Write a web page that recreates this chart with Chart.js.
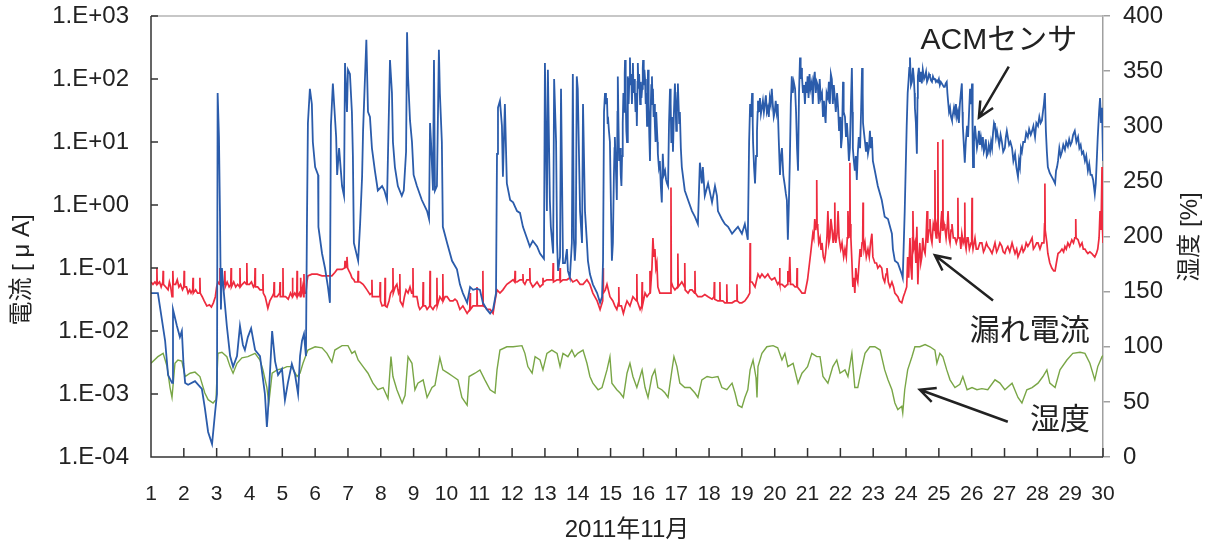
<!DOCTYPE html>
<html>
<head>
<meta charset="utf-8">
<script src="https://cdn.jsdelivr.net/npm/chart.js@4.4.1/dist/chart.umd.min.js"></script>
<style>
  html, body { margin: 0; padding: 0; background: #fff; }
  #wrap { width: 1210px; height: 548px; }
</style>
</head>
<body>
<div id="wrap"><canvas id="chart"></canvas></div>
<script>
// readings taken off the plot: [day of Nov 2011, value]
const acmReadings = [
  [1.00,4e-2],[1.21,4e-2],[1.43,7e-3],[1.52,2e-3],[1.64,1.5e-3],[1.67,2.2e-2],[1.79,1.2e-2],[1.88,8e-3],[1.94,1e-2],[1.99,3e-3],
  [2.04,1.5e-3],[2.13,1.4e-3],[2.34,1.6e-3],[2.55,1.2e-3],[2.64,6e-4],[2.74,2.5e-4],[2.86,1.6e-4],[2.95,5e-4],[3.01,1e-3],[3.03,60],
  [3.07,12],[3.10,0.8],[3.13,2.2e-2],[3.16,0.1],[3.22,4e-2],[3.31,1.2e-2],[3.41,4e-3],[3.50,2.7e-3],[3.62,4e-3],[3.71,1.2e-2],
  [3.80,6e-3],[3.86,5e-3],[3.95,8e-3],[4.05,1.1e-2],[4.17,5e-3],[4.32,4e-3],[4.47,1e-3],[4.53,3e-4],[4.56,5e-4],[4.69,1e-2],
  [4.78,3.3e-3],[4.87,2e-3],[4.99,2.5e-3],[5.08,8e-4],[5.17,1.5e-3],[5.29,3e-3],[5.39,2e-3],[5.48,1e-3],[5.54,4e-3],[5.60,7e-3],
  [5.66,9e-3],[5.72,4e-3],[5.75,0.45],[5.78,20],[5.84,70],[5.90,40],[5.93,10],[6.00,4],[6.09,3],[6.10,0.45],
  [6.21,0.17],[6.30,0.1],[6.39,5e-2],[6.45,2.8e-2],[6.48,18],[6.54,85],[6.64,12],[6.67,3],[6.73,8],[6.82,2],
  [6.88,1.4],[6.91,180],[6.97,30],[7.00,140],[7.06,120],[7.12,30],[7.15,6],[7.18,0.25],[7.31,0.13],[7.37,0.5],
  [7.43,2.8],[7.46,15],[7.56,420],[7.61,30],[7.67,25],[7.73,8],[7.82,3.5],[7.91,1.7],[8.04,2],[8.11,1.7],
  [8.19,1.2],[8.28,200],[8.34,60],[8.37,10],[8.43,4],[8.52,2],[8.64,1.4],[8.70,1.7],[8.77,7],[8.80,550],
  [8.83,110],[8.89,22],[8.95,10],[9.00,3],[9.10,2],[9.25,1.2],[9.41,0.8],[9.47,0.6],[9.50,20],[9.53,10],
  [9.59,1.7],[9.62,200],[9.65,1.7],[9.71,2],[9.77,290],[9.80,60],[9.86,10],[9.89,0.45],[10.02,0.25],[10.17,0.13],
  [10.32,9.5e-2],[10.41,5.5e-2],[10.50,4e-2],[10.63,2.8e-2],[10.72,5e-2],[10.81,4.5e-2],[10.93,4.7e-2],[11.02,4.5e-2],[11.11,2.8e-2],[11.23,2.2e-2],
  [11.33,1.9e-2],[11.42,2.2e-2],[11.51,4e-2],[11.54,6.5],[11.57,35],[11.63,45],[11.69,18],[11.72,2.8],[11.78,40],[11.84,2.2],
  [11.94,1.2],[12.03,1.1],[12.15,0.8],[12.24,0.75],[12.33,0.45],[12.45,0.3],[12.54,0.22],[12.63,0.27],[12.76,0.22],[12.85,0.17],
  [12.97,0.14],[13.00,180],[13.06,0.8],[13.09,140],[13.15,1.2],[13.18,0.45],[13.25,0.17],[13.28,100],[13.34,10],[13.37,0.25],
  [13.40,9e-2],[13.46,0.15],[13.49,70],[13.55,0.12],[13.61,0.12],[13.67,0.2],[13.70,9e-2],[13.76,7e-2],[13.82,0.25],[13.85,120],
  [13.88,0.3],[13.91,0.13],[13.94,0.25],[13.97,110],[14.00,70],[14.07,0.8],[14.13,0.25],[14.16,40],[14.22,0.8],[14.28,0.25],
  [14.31,0.13],[14.37,8e-2],[14.46,5.5e-2],[14.59,4e-2],[14.68,2.8e-2],[14.74,3.5e-2],[14.77,0.13],[14.80,30],[14.83,60],[14.86,40],
  [14.89,50],[14.91,20],[14.92,25],[14.95,15],[14.98,10],[15.01,1],[15.04,0.13],[15.07,0.25],[15.10,2.8],[15.12,8],
  [15.13,12],[15.16,4],[15.19,1.2],[15.21,30],[15.22,110],[15.24,20],[15.26,5],[15.29,8],[15.31,3],[15.33,2],
  [15.35,6],[15.37,20],[15.39,60],[15.41,30],[15.43,120],[15.44,200],[15.46,50],[15.48,15],[15.50,10],[15.52,60],
  [15.53,110],[15.55,40],[15.57,100],[15.59,220],[15.61,80],[15.63,120],[15.65,40],[15.67,90],[15.68,180],[15.70,60],
  [15.72,100],[15.74,60],[15.76,30],[15.78,60],[15.80,18],[15.82,90],[15.83,180],[15.85,70],[15.87,120],[15.90,40],
  [15.92,90],[15.94,50],[15.96,70],[15.98,150],[15.99,200],[16.01,80],[16.03,140],[16.05,100],[16.07,40],[16.09,60],
  [16.11,18],[16.13,80],[16.14,140],[16.16,40],[16.18,12],[16.20,5],[16.22,30],[16.24,80],[16.26,110],[16.28,40],
  [16.29,70],[16.31,25],[16.33,40],[16.35,18],[16.37,10],[16.39,30],[16.41,30],[16.43,10],[16.44,6.5],[16.47,4],
  [16.50,5],[16.53,2],[16.56,1.1],[16.59,6.5],[16.62,3],[16.66,3.5],[16.69,2.5],[16.72,2.2],[16.75,2],[16.78,20],
  [16.81,70],[16.83,40],[16.85,10],[16.87,25],[16.89,12],[16.90,7],[16.93,30],[16.96,85],[16.98,40],[17.00,15],
  [17.02,30],[17.04,60],[17.05,85],[17.07,40],[17.09,20],[17.11,30],[17.14,8],[17.17,4],[17.26,1.7],[17.36,1.2],
  [17.48,0.8],[17.57,0.65],[17.66,0.5],[17.72,4.7],[17.78,2.2],[17.81,4],[17.87,1.4],[17.97,2.2],[18.09,1.1],[18.18,2],
  [18.24,1.4],[18.27,0.8],[18.39,0.6],[18.48,0.5],[18.58,0.45],[18.70,0.35],[18.79,0.4],[18.88,0.45],[19.00,0.35],[19.09,0.5],
  [19.18,0.28],[19.22,10],[19.25,40],[19.28,25],[19.31,60],[19.33,20],[19.34,10],[19.37,4],[19.40,2.2],[19.43,6],
  [19.46,15],[19.48,30],[19.49,45],[19.52,30],[19.55,50],[19.58,28],[19.61,35],[19.64,45],[19.67,30],[19.70,40],
  [19.73,55],[19.76,30],[19.79,35],[19.82,25],[19.85,50],[19.88,40],[19.91,70],[19.94,40],[19.97,25],[20.00,30],
  [20.03,45],[20.06,30],[20.09,40],[20.12,12],[20.16,3],[20.19,6],[20.22,8],[20.26,3],[20.31,2],[20.34,1.5],
  [20.37,1.2],[20.40,0.28],[20.43,1],[20.46,5],[20.49,40],[20.52,110],[20.55,60],[20.58,90],[20.62,70],[20.65,30],
  [20.68,8],[20.71,3.5],[20.74,60],[20.77,220],[20.79,100],[20.81,150],[20.83,110],[20.86,60],[20.89,80],[20.92,40],
  [20.95,90],[20.98,60],[21.00,110],[21.03,50],[21.06,120],[21.09,70],[21.13,90],[21.16,40],[21.19,100],[21.22,130],
  [21.25,60],[21.28,90],[21.31,80],[21.34,40],[21.37,100],[21.40,50],[21.44,60],[21.47,25],[21.50,45],[21.52,30],
  [21.55,20],[21.58,60],[21.62,50],[21.65,90],[21.68,40],[21.71,120],[21.74,100],[21.77,40],[21.80,80],[21.83,50],
  [21.86,30],[21.90,60],[21.93,35],[21.96,15],[22.00,25],[22.02,8],[22.05,12],[22.08,90],[22.10,30],[22.14,25],
  [22.17,12],[22.20,20],[22.23,11],[22.26,5],[22.29,8],[22.32,40],[22.35,150],[22.37,30],[22.38,8],[22.41,5],
  [22.44,3.5],[22.47,6],[22.50,2.5],[22.53,6.5],[22.56,12],[22.60,8],[22.63,30],[22.66,150],[22.68,60],[22.69,20],
  [22.72,14],[22.75,10],[22.78,7],[22.81,10],[22.84,6.5],[22.87,8],[22.90,15],[22.93,8],[22.96,12],[22.99,5],
  [23.05,3.5],[23.14,2],[23.26,1.2],[23.35,0.65],[23.45,0.6],[23.57,0.35],[23.60,0.2],[23.66,0.13],[23.75,0.12],[23.87,8e-2],
  [23.90,7e-2],[23.96,0.8],[24.02,18],[24.05,60],[24.08,100],[24.10,150],[24.12,220],[24.15,80],[24.18,90],[24.21,150],
  [24.24,100],[24.26,60],[24.27,35],[24.30,20],[24.33,6.5],[24.35,50],[24.36,110],[24.39,150],[24.42,90],[24.45,130],
  [24.48,85],[24.51,140],[24.55,100],[24.58,110],[24.61,130],[24.64,90],[24.67,100],[24.70,120],[24.73,110],[24.76,95],
  [24.79,90],[24.82,110],[24.85,100],[24.88,100],[24.91,90],[24.94,95],[24.97,90],[25.00,100],[25.03,80],[25.06,90],
  [25.09,85],[25.12,80],[25.15,75],[25.18,75],[25.21,85],[25.24,90],[25.26,60],[25.28,45],[25.31,30],[25.34,35],
  [25.37,25],[25.40,22],[25.43,28],[25.46,35],[25.49,28],[25.52,40],[25.55,25],[25.58,30],[25.61,20],[25.64,40],
  [25.67,60],[25.70,85],[25.72,30],[25.73,18],[25.76,9],[25.79,4.7],[25.82,10],[25.86,18],[25.89,12],[25.92,30],
  [25.95,70],[25.98,40],[26.01,85],[26.03,10],[26.04,4],[26.07,10],[26.10,18],[26.13,12],[26.16,8],[26.19,10],
  [26.22,15],[26.25,9],[26.28,12],[26.31,9],[26.34,12],[26.37,7],[26.40,8],[26.43,11],[26.46,6],[26.49,6.5],
  [26.52,9],[26.56,7],[26.59,10],[26.62,8],[26.65,14],[26.68,20],[26.71,18],[26.74,12],[26.77,15],[26.80,12],
  [26.84,9],[26.88,13],[26.92,10],[26.96,7],[27.01,8],[27.04,12],[27.07,15],[27.10,12],[27.14,9],[27.18,10],
  [27.23,8],[27.27,5],[27.32,6.5],[27.36,4],[27.41,2.8],[27.44,5],[27.47,4],[27.50,8],[27.53,7],[27.57,10],
  [27.62,10],[27.66,14],[27.71,12],[27.75,16],[27.80,13],[27.84,15],[27.88,18],[27.93,12],[27.97,20],[28.02,18],
  [28.06,25],[28.10,20],[28.14,22],[28.17,30],[28.20,40],[28.23,60],[28.26,15],[28.29,7],[28.32,4],[28.38,3.2],
  [28.44,2.8],[28.49,2.5],[28.54,2.2],[28.57,3.5],[28.60,4],[28.63,5],[28.67,8],[28.71,6],[28.75,7],[28.79,9],
  [28.84,7.5],[28.88,10],[28.93,8.5],[28.97,11],[29.01,9],[29.05,10],[29.09,13],[29.14,15],[29.19,10],[29.24,12],
  [29.28,8],[29.32,9],[29.36,6.5],[29.40,7],[29.45,5],[29.49,6],[29.54,3.5],[29.58,4.5],[29.62,3],[29.66,3],
  [29.70,2.5],[29.75,1.5],[29.78,2.2],[29.84,12],[29.88,30],[29.91,50],[29.94,20],[29.97,35],[30.00,5]
];

const leakReadings = [
  [1.00,6e-2],[1.06,5.5e-2],[1.12,6e-2],[1.17,5.5e-2],[1.18,0.1],[1.19,5.5e-2],[1.26,6e-2],[1.31,5e-2],[1.36,6e-2],[1.37,9e-2],
  [1.38,5.5e-2],[1.45,5e-2],[1.52,4.5e-2],[1.56,6e-2],[1.60,5e-2],[1.64,3.5e-2],[1.66,5e-2],[1.67,9e-2],[1.68,5.5e-2],[1.75,5.5e-2],
  [1.80,6.5e-2],[1.85,5e-2],[1.90,5.5e-2],[1.96,4.5e-2],[2.00,5e-2],[2.01,9e-2],[2.02,5e-2],[2.08,5e-2],[2.13,4e-2],[2.18,4.5e-2],
  [2.22,4e-2],[2.27,4.5e-2],[2.28,7e-2],[2.29,4e-2],[2.36,4.5e-2],[2.42,4e-2],[2.48,4e-2],[2.49,7e-2],[2.50,4e-2],[2.56,3.5e-2],
  [2.62,3e-2],[2.70,2.5e-2],[2.78,2.6e-2],[2.84,2.4e-2],[2.90,2.8e-2],[2.96,3.5e-2],[3.00,5e-2],[3.04,6e-2],[3.09,5.5e-2],[3.10,0.1],
  [3.11,6e-2],[3.16,6.5e-2],[3.21,5.5e-2],[3.24,6e-2],[3.25,9e-2],[3.26,5e-2],[3.32,6e-2],[3.38,5e-2],[3.43,5.5e-2],[3.44,0.1],
  [3.45,5e-2],[3.52,6e-2],[3.58,5e-2],[3.64,5.5e-2],[3.70,5e-2],[3.71,0.1],[3.72,5e-2],[3.78,5.5e-2],[3.85,6e-2],[3.91,5.5e-2],
  [3.92,0.12],[3.93,5.5e-2],[4.00,5.5e-2],[4.06,6e-2],[4.12,5e-2],[4.16,5.5e-2],[4.17,0.1],[4.18,5e-2],[4.25,5e-2],[4.32,4.5e-2],
  [4.40,4.5e-2],[4.41,8e-2],[4.42,4e-2],[4.48,3.5e-2],[4.56,2.3e-2],[4.62,3e-2],[4.69,3.5e-2],[4.74,4e-2],[4.75,6e-2],[4.76,3.5e-2],
  [4.84,3.5e-2],[4.92,4e-2],[4.93,6e-2],[4.94,3.5e-2],[5.01,3.5e-2],[5.02,0.1],[5.03,3.5e-2],[5.10,3.5e-2],[5.18,3.2e-2],[5.25,4e-2],
  [5.30,3.5e-2],[5.31,7e-2],[5.32,3.5e-2],[5.38,4e-2],[5.44,3.5e-2],[5.45,9e-2],[5.46,3.5e-2],[5.52,4e-2],[5.55,3.5e-2],[5.56,7e-2],
  [5.57,3.5e-2],[5.62,5e-2],[5.65,3.5e-2],[5.66,8e-2],[5.67,4e-2],[5.72,4e-2],[5.75,6e-2],[5.78,7.5e-2],[5.90,8e-2],[6.06,8e-2],
  [6.21,7.5e-2],[6.36,7.5e-2],[6.51,7.5e-2],[6.60,8.5e-2],[6.67,9.5e-2],[6.82,9.5e-2],[6.90,0.1],[6.91,0.13],[6.93,0.1],[6.96,0.12],
  [6.97,0.15],[6.99,0.1],[7.03,9e-2],[7.08,8e-2],[7.12,7e-2],[7.18,6.5e-2],[7.21,6e-2],[7.30,6e-2],[7.31,9e-2],[7.32,6e-2],
  [7.37,6e-2],[7.46,5.5e-2],[7.52,5e-2],[7.58,4.5e-2],[7.67,3.8e-2],[7.72,4e-2],[7.73,6.5e-2],[7.74,3.5e-2],[7.82,3.5e-2],[7.91,3.5e-2],
  [7.97,3.5e-2],[7.98,6e-2],[7.99,3e-2],[8.04,2.5e-2],[8.12,2.6e-2],[8.13,7e-2],[8.14,2.5e-2],[8.19,2.4e-2],[8.25,3e-2],[8.30,4e-2],
  [8.36,4.5e-2],[8.37,0.1],[8.38,4e-2],[8.44,5e-2],[8.49,5.5e-2],[8.54,4e-2],[8.57,4.5e-2],[8.58,8e-2],[8.59,3e-2],[8.67,2.5e-2],
  [8.72,3.5e-2],[8.77,4.5e-2],[8.83,4e-2],[8.89,5e-2],[8.94,4e-2],[8.97,4e-2],[8.98,0.1],[8.99,3.5e-2],[9.05,3.5e-2],[9.10,3.5e-2],
  [9.15,2.5e-2],[9.19,2.2e-2],[9.28,2.5e-2],[9.29,6e-2],[9.30,2.5e-2],[9.36,2.5e-2],[9.41,2.2e-2],[9.49,2.5e-2],[9.50,9e-2],[9.51,2.5e-2],
  [9.59,2.2e-2],[9.65,2.5e-2],[9.70,2.6e-2],[9.71,7e-2],[9.72,2.5e-2],[9.80,3.5e-2],[9.88,3e-2],[9.89,8e-2],[9.90,3e-2],[9.96,3.5e-2],
  [10.02,3.5e-2],[10.11,3e-2],[10.20,3e-2],[10.26,3.2e-2],[10.32,3e-2],[10.41,2.2e-2],[10.50,2.5e-2],[10.56,2.2e-2],[10.63,1.9e-2],[10.71,2.2e-2],
  [10.72,4e-2],[10.73,2.2e-2],[10.81,2.5e-2],[10.87,2.5e-2],[10.92,2.5e-2],[10.93,5e-2],[10.94,2.5e-2],[11.02,2.5e-2],[11.10,2.5e-2],[11.11,9e-2],
  [11.12,2.5e-2],[11.18,2.4e-2],[11.23,2.2e-2],[11.33,2.2e-2],[11.42,1.9e-2],[11.48,3e-2],[11.54,4.5e-2],[11.63,4e-2],[11.72,4.5e-2],[11.78,5e-2],
  [11.84,5.5e-2],[11.94,6e-2],[12.03,6.5e-2],[12.08,6e-2],[12.09,9e-2],[12.10,6e-2],[12.15,6e-2],[12.24,6.5e-2],[12.32,6.5e-2],[12.33,8e-2],
  [12.34,6e-2],[12.39,5.5e-2],[12.45,6.5e-2],[12.53,6.5e-2],[12.54,0.1],[12.55,6e-2],[12.63,5e-2],[12.70,5.5e-2],[12.76,6e-2],[12.85,5e-2],
  [12.93,5.5e-2],[12.94,7e-2],[12.95,6e-2],[13.06,6.5e-2],[13.15,6.5e-2],[13.24,6.5e-2],[13.25,0.12],[13.26,6e-2],[13.37,6.5e-2],[13.45,6.5e-2],
  [13.46,0.1],[13.47,6e-2],[13.55,6.5e-2],[13.67,6.5e-2],[13.76,7e-2],[13.85,6e-2],[13.97,6.5e-2],[14.07,5.5e-2],[14.16,5.5e-2],[14.28,6.5e-2],
  [14.37,5.5e-2],[14.46,4e-2],[14.59,3e-2],[14.68,2.2e-2],[14.76,3e-2],[14.77,0.1],[14.78,4e-2],[14.84,4.5e-2],[14.89,5.5e-2],[14.98,3.5e-2],
  [15.07,3e-2],[15.13,2.5e-2],[15.19,2.2e-2],[15.24,2.8e-2],[15.25,5e-2],[15.26,2.5e-2],[15.33,2.5e-2],[15.39,1.9e-2],[15.45,2.5e-2],[15.50,3e-2],
  [15.59,2.5e-2],[15.68,3.5e-2],[15.79,3e-2],[15.80,8e-2],[15.81,3e-2],[15.90,2.2e-2],[15.95,2.5e-2],[15.96,6e-2],[15.97,2.5e-2],[16.05,4e-2],
  [16.11,3.5e-2],[16.19,4e-2],[16.20,9e-2],[16.21,4e-2],[16.26,0.1],[16.29,0.3],[16.32,0.15],[16.35,0.2],[16.38,0.1],[16.41,0.12],
  [16.44,5e-2],[16.50,4e-2],[16.56,4e-2],[16.66,4e-2],[16.75,4e-2],[16.83,4e-2],[16.84,1.9],[16.85,6e-2],[16.90,5e-2],[16.96,4.5e-2],
  [17.04,5e-2],[17.05,0.17],[17.06,5e-2],[17.12,5.5e-2],[17.17,6e-2],[17.25,5e-2],[17.26,0.12],[17.27,4.5e-2],[17.36,4e-2],[17.42,4.5e-2],
  [17.48,4.5e-2],[17.56,4e-2],[17.57,9e-2],[17.58,4e-2],[17.66,3.5e-2],[17.78,3.5e-2],[17.87,3.8e-2],[17.97,3.5e-2],[18.09,3.2e-2],[18.15,3.5e-2],
  [18.16,6e-2],[18.17,3.2e-2],[18.27,3e-2],[18.32,3e-2],[18.33,6e-2],[18.34,3e-2],[18.42,3e-2],[18.48,2.8e-2],[18.53,2.8e-2],[18.54,5.5e-2],
  [18.55,2.8e-2],[18.65,2.8e-2],[18.70,2.8e-2],[18.79,3e-2],[18.84,3e-2],[18.85,5.5e-2],[18.86,3e-2],[18.93,2.8e-2],[19.00,2.8e-2],[19.09,3e-2],
  [19.18,3.5e-2],[19.24,4e-2],[19.25,0.25],[19.26,6e-2],[19.31,6e-2],[19.40,5e-2],[19.49,8e-2],[19.55,7e-2],[19.61,8e-2],[19.70,7e-2],
  [19.79,8e-2],[19.85,7e-2],[19.91,6.5e-2],[20.00,7e-2],[20.09,5.5e-2],[20.14,6e-2],[20.15,0.1],[20.16,5.5e-2],[20.22,5.5e-2],[20.31,5e-2],
  [20.39,5.5e-2],[20.40,9e-2],[20.43,6e-2],[20.46,0.15],[20.48,5.5e-2],[20.55,5.5e-2],[20.62,5e-2],[20.67,5e-2],[20.68,0.1],[20.69,5e-2],
  [20.76,4.5e-2],[20.83,4e-2],[20.92,4e-2],[21.00,6.5e-2],[21.06,0.12],[21.10,0.18],[21.13,0.25],[21.16,0.35],[21.19,0.3],[21.22,0.6],
  [21.25,0.4],[21.27,0.5],[21.28,2.5],[21.29,0.5],[21.31,0.45],[21.34,0.25],[21.38,0.3],[21.41,0.2],[21.44,0.25],[21.48,0.15],
  [21.52,0.13],[21.55,0.17],[21.59,0.3],[21.62,0.8],[21.65,0.25],[21.68,0.3],[21.71,0.6],[21.74,0.45],[21.78,0.25],[21.82,0.4],
  [21.83,1.1],[21.84,0.3],[21.86,0.25],[21.90,0.35],[21.93,0.8],[21.96,0.3],[22.01,0.2],[22.05,0.25],[22.10,0.15],[22.14,0.2],
  [22.18,0.15],[22.21,0.3],[22.23,0.8],[22.26,0.3],[22.28,0.5],[22.29,4.7],[22.30,0.5],[22.32,0.3],[22.35,0.13],[22.38,5e-2],
  [22.41,7e-2],[22.44,4e-2],[22.47,0.1],[22.50,7e-2],[22.53,6e-2],[22.57,0.12],[22.60,0.2],[22.63,0.15],[22.66,0.25],[22.68,0.3],
  [22.69,1.1],[22.70,0.3],[22.72,0.2],[22.75,0.25],[22.79,0.15],[22.84,0.2],[22.88,0.15],[22.92,0.25],[22.96,0.35],[22.99,0.15],
  [23.05,0.12],[23.10,0.12],[23.14,0.1],[23.20,0.11],[23.26,0.1],[23.30,7e-2],[23.35,6e-2],[23.39,8e-2],[23.42,0.1],[23.46,6e-2],
  [23.51,5e-2],[23.57,6e-2],[23.62,5e-2],[23.66,4e-2],[23.75,3.5e-2],[23.80,3e-2],[23.87,2.8e-2],[23.92,3.5e-2],[23.96,4e-2],[24.02,5e-2],
  [24.05,0.15],[24.08,7e-2],[24.12,0.3],[24.15,0.1],[24.18,6.5e-2],[24.20,0.3],[24.21,0.8],[24.23,0.2],[24.27,0.25],[24.30,0.12],
  [24.33,0.45],[24.36,5.5e-2],[24.39,0.15],[24.42,0.25],[24.45,0.12],[24.48,0.15],[24.51,0.3],[24.54,0.2],[24.58,0.17],[24.61,0.3],
  [24.64,0.8],[24.66,0.25],[24.67,0.3],[24.70,0.4],[24.73,0.6],[24.76,0.3],[24.79,0.25],[24.83,0.5],[24.87,0.4],[24.88,3.6],
  [24.89,0.4],[24.92,0.3],[24.94,0.45],[24.96,0.4],[24.97,10],[24.98,0.4],[25.01,0.3],[25.03,0.25],[25.06,0.5],[25.09,0.8],
  [25.11,0.4],[25.12,11],[25.13,0.4],[25.16,0.5],[25.18,0.45],[25.22,0.3],[25.26,0.5],[25.28,0.8],[25.31,0.3],[25.34,0.25],
  [25.37,0.4],[25.40,0.5],[25.44,0.3],[25.49,0.3],[25.53,0.25],[25.57,0.3],[25.58,1.3],[25.59,0.3],[25.64,0.3],[25.67,0.2],
  [25.70,0.35],[25.74,0.25],[25.78,0.3],[25.79,1.1],[25.80,0.25],[25.83,0.2],[25.86,0.3],[25.89,0.3],[25.93,0.2],[25.98,0.25],
  [26.00,0.3],[26.01,1.3],[26.02,0.25],[26.04,0.2],[26.10,0.3],[26.14,0.2],[26.19,0.2],[26.25,0.25],[26.31,0.25],[26.36,0.18],
  [26.40,0.2],[26.45,0.25],[26.49,0.22],[26.55,0.2],[26.62,0.17],[26.66,0.2],[26.71,0.25],[26.76,0.18],[26.80,0.2],[26.86,0.25],
  [26.92,0.22],[26.96,0.18],[27.01,0.17],[27.05,0.2],[27.10,0.22],[27.16,0.18],[27.23,0.25],[27.28,0.2],[27.32,0.17],[27.37,0.2],
  [27.41,0.15],[27.47,0.18],[27.53,0.22],[27.57,0.18],[27.62,0.2],[27.66,0.25],[27.71,0.22],[27.77,0.25],[27.84,0.3],[27.88,0.2],
  [27.93,0.22],[27.98,0.25],[28.02,0.25],[28.08,0.2],[28.14,0.25],[28.20,0.25],[28.22,0.5],[28.23,2.2],[28.24,0.4],[28.29,0.25],
  [28.32,0.17],[28.38,0.12],[28.44,0.1],[28.50,9e-2],[28.54,9e-2],[28.58,0.12],[28.63,0.17],[28.69,0.18],[28.75,0.2],[28.80,0.18],
  [28.84,0.22],[28.88,0.2],[28.93,0.25],[28.98,0.22],[29.05,0.28],[29.10,0.25],[29.14,0.3],[29.16,0.3],[29.17,0.6],[29.18,0.3],
  [29.24,0.28],[29.30,0.22],[29.36,0.25],[29.40,0.2],[29.45,0.2],[29.50,0.18],[29.54,0.17],[29.60,0.18],[29.66,0.17],[29.70,0.16],
  [29.75,0.15],[29.80,0.17],[29.84,0.2],[29.88,0.3],[29.91,0.8],[29.94,0.4],[29.97,4],[29.98,0.5],[30.00,0.25]
];

const humidityReadings = [
  [1.00,85],[1.21,91],[1.37,94],[1.49,82],[1.58,63],[1.64,54],[1.73,85],[1.82,88],[1.94,87],[2.04,73],
  [2.19,76],[2.34,77],[2.49,73],[2.64,58],[2.74,52],[2.89,49],[2.98,52],[3.04,94],[3.16,95],[3.31,91],
  [3.41,82],[3.50,76],[3.62,85],[3.77,90],[3.95,91],[4.17,94],[4.32,88],[4.41,79],[4.53,63],[4.59,49],
  [4.69,76],[4.84,79],[4.99,80],[5.14,82],[5.29,82],[5.45,73],[5.54,76],[5.63,85],[5.78,97],[6.00,100],
  [6.21,99],[6.36,94],[6.51,86],[6.60,97],[6.82,101],[7.00,101],[7.12,94],[7.21,96],[7.31,88],[7.46,82],
  [7.61,76],[7.76,67],[7.91,61],[8.07,63],[8.22,53],[8.31,91],[8.37,73],[8.49,61],[8.65,49],[8.74,56],
  [8.83,91],[8.95,85],[9.04,61],[9.13,67],[9.29,70],[9.41,54],[9.56,63],[9.65,65],[9.80,90],[9.89,79],
  [10.05,76],[10.20,73],[10.35,70],[10.47,54],[10.63,47],[10.69,73],[10.87,76],[11.02,79],[11.17,70],[11.33,61],
  [11.48,58],[11.54,79],[11.63,97],[11.84,100],[12.03,100],[12.30,101],[12.39,94],[12.48,82],[12.61,76],[12.70,91],
  [12.85,88],[12.94,79],[13.06,94],[13.21,97],[13.37,94],[13.46,82],[13.55,94],[13.70,91],[13.82,97],[13.91,91],
  [14.00,94],[14.16,97],[14.28,85],[14.37,73],[14.46,67],[14.62,61],[14.74,63],[14.89,79],[14.98,91],[15.04,67],
  [15.19,61],[15.29,58],[15.39,54],[15.50,76],[15.59,85],[15.68,73],[15.80,63],[15.96,79],[16.05,63],[16.14,54],
  [16.26,73],[16.35,79],[16.44,63],[16.56,61],[16.66,58],[16.75,54],[16.87,79],[16.93,91],[17.02,82],[17.11,67],
  [17.26,63],[17.42,63],[17.57,58],[17.66,54],[17.78,70],[17.94,73],[18.09,72],[18.27,73],[18.39,63],[18.54,61],
  [18.70,67],[18.79,58],[18.88,47],[19.00,45],[19.09,54],[19.18,61],[19.25,79],[19.34,88],[19.43,72],[19.46,54],
  [19.49,82],[19.61,94],[19.76,100],[19.95,101],[20.09,99],[20.22,88],[20.31,94],[20.40,82],[20.56,85],[20.71,67],
  [20.83,76],[20.92,79],[21.00,82],[21.13,94],[21.28,91],[21.38,91],[21.47,73],[21.62,67],[21.77,82],[21.89,88],
  [21.99,76],[22.14,79],[22.23,73],[22.35,94],[22.44,63],[22.53,63],[22.66,82],[22.75,94],[22.90,100],[23.05,100],
  [23.21,97],[23.35,79],[23.45,70],[23.57,61],[23.66,49],[23.75,43],[23.87,46],[23.90,40],[23.96,61],[24.05,79],
  [24.18,91],[24.27,100],[24.42,100],[24.58,102],[24.73,100],[24.88,97],[24.94,85],[25.03,94],[25.12,91],[25.24,79],
  [25.34,70],[25.49,63],[25.64,66],[25.73,73],[25.86,61],[26.01,63],[26.16,61],[26.31,62],[26.49,61],[26.71,70],
  [26.86,67],[27.01,61],[27.23,67],[27.41,54],[27.53,49],[27.68,61],[27.84,63],[28.02,67],[28.17,73],[28.29,79],
  [28.38,67],[28.54,63],[28.69,79],[28.90,88],[29.08,94],[29.30,95],[29.45,94],[29.60,85],[29.75,70],[29.84,82],
  [29.97,91],[30.00,92]
];

const dayTicks = [1,2,3,4,5,6,7,8,9,10,11,12,13,14,15,16,17,18,19,20,21,22,23,24,25,26,27,28,29,30];
const currentTicks = [1e-4,1e-3,1e-2,1e-1,1e0,1e1,1e2,1e3];
const humidityTicks = [0,50,100,150,200,250,300,350,400];

// labels with arrows, placed in (day, humidity axis) units
const notes = [
  { text: 'ACMセンサ', tx: 26.83, ty: 378, from: [27.13, 354], to: [26.22, 308] },
  { text: '漏れ電流', tx: 27.77, ty: 114, from: [26.65, 142], to: [24.88, 183] },
  { text: '湿度', tx: 28.69, ty: 33, from: [27.10, 32], to: [24.42, 61] }
];

const FONT = "'Liberation Sans', 'Noto Sans CJK JP', sans-serif";
const INK = '#222';

function sciLabel(v) {
  const e = Math.round(Math.log10(v));
  return '1.E' + (e < 0 ? '-' : '+') + String(Math.abs(e)).padStart(2, '0');
}

function arrow(ctx, x1, y1, x2, y2) {
  const a = Math.atan2(y2 - y1, x2 - x1);
  const len = 17, spread = 0.45;
  ctx.beginPath();
  ctx.moveTo(x1, y1);
  ctx.lineTo(x2, y2);
  ctx.moveTo(x2 - len * Math.cos(a - spread), y2 - len * Math.sin(a - spread));
  ctx.lineTo(x2, y2);
  ctx.lineTo(x2 - len * Math.cos(a + spread), y2 - len * Math.sin(a + spread));
  ctx.stroke();
}

const framePlugin = {
  id: 'frame',
  afterDatasetsDraw(chart) {
    const { ctx, chartArea: a, scales } = chart;
    ctx.save();
    // grey top border
    ctx.strokeStyle = '#b4b4b4';
    ctx.lineWidth = 1.5;
    ctx.beginPath();
    ctx.moveTo(a.left, a.top); ctx.lineTo(a.right, a.top);
    ctx.stroke();
    // left and bottom axis lines with inward ticks
    ctx.strokeStyle = '#333';
    ctx.lineWidth = 1.5;
    ctx.beginPath();
    ctx.moveTo(a.left, a.top); ctx.lineTo(a.left, a.bottom); ctx.lineTo(a.right, a.bottom);
    currentTicks.forEach(v => {
      const y = scales.y.getPixelForValue(v);
      ctx.moveTo(a.left, y); ctx.lineTo(a.left + 7, y);
    });
    dayTicks.forEach(d => {
      const x = scales.x.getPixelForValue(d);
      ctx.moveTo(x, a.bottom); ctx.lineTo(x, a.bottom - 9);
    });
    ctx.stroke();

    // axis titles
    ctx.fillStyle = INK;
    ctx.font = '24px ' + FONT;
    ctx.textAlign = 'center';
    ctx.textBaseline = 'middle';
    ctx.fillText('2011年11月', (a.left + a.right) / 2, 530);
    ctx.save();
    ctx.translate(22, 270);
    ctx.rotate(-Math.PI / 2);
    ctx.fillText('電流 [ μ A]', 0, 0);
    ctx.restore();
    ctx.save();
    ctx.translate(1190, 237);
    ctx.rotate(-Math.PI / 2);
    ctx.fillText('湿度 [%]', 0, 0);
    ctx.restore();

    // annotations
    ctx.font = '30px ' + FONT;
    ctx.strokeStyle = INK;
    ctx.lineWidth = 2.5;
    const px = d => scales.x.getPixelForValue(d);
    const py = h => scales.y1.getPixelForValue(h);
    notes.forEach(n => {
      ctx.fillText(n.text, px(n.tx), py(n.ty));
      arrow(ctx, px(n.from[0]), py(n.from[1]), px(n.to[0]), py(n.to[1]));
    });
    ctx.restore();
  }
};

const toPoints = rows => rows.map(([d, v]) => ({ x: d, y: v }));
const noPad = s => { s.paddingTop = 0; s.paddingBottom = 0; };

new Chart(document.getElementById('chart'), {
  type: 'line',
  data: {
    datasets: [
      { label: 'ACMセンサ', data: toPoints(acmReadings), yAxisID: 'y', borderColor: '#2b5cab', borderWidth: 1.8, order: 0 },
      { label: '漏れ電流', data: toPoints(leakReadings), yAxisID: 'y', borderColor: '#ee2b3e', borderWidth: 1.7, order: 1 },
      { label: '湿度', data: toPoints(humidityReadings), yAxisID: 'y1', borderColor: '#79a646', borderWidth: 1.4, order: 2 }
    ]
  },
  options: {
    responsive: true,
    maintainAspectRatio: false,
    animation: false,
    parsing: false,
    elements: { point: { radius: 0 }, line: { tension: 0 } },
    layout: { padding: { top: 16, left: 0, right: 0, bottom: 0 } },
    plugins: { legend: { display: false }, tooltip: { enabled: false } },
    scales: {
      x: {
        type: 'linear', min: 1, max: 30,
        afterBuildTicks: s => { s.ticks = dayTicks.map(v => ({ value: v })); },
        afterFit: s => { s.height = 91; s.paddingLeft = 0; s.paddingRight = 0; },
        grid: { display: false },
        border: { display: false },
        ticks: { autoSkip: false, maxRotation: 0, padding: 17, color: INK, font: { family: FONT, size: 21 } }
      },
      y: {
        type: 'logarithmic', position: 'left', min: 1e-4, max: 1e3,
        afterBuildTicks: s => { s.ticks = currentTicks.map(v => ({ value: v })); },
        afterFit: s => { s.width = 151; noPad(s); },
        grid: { display: false },
        border: { display: false },
        ticks: { callback: v => sciLabel(v), padding: 14, color: INK, font: { family: FONT, size: 24 } }
      },
      y1: {
        type: 'linear', position: 'right', min: 0, max: 400,
        afterBuildTicks: s => { s.ticks = humidityTicks.map(v => ({ value: v })); },
        afterFit: s => { s.width = 107; noPad(s); },
        grid: { drawOnChartArea: false, drawTicks: true, tickLength: 7, color: '#a0a0a0', lineWidth: 1.5 },
        border: { display: true, color: '#a0a0a0', width: 1.5 },
        ticks: { padding: 13, color: INK, font: { family: FONT, size: 24 } }
      }
    }
  },
  plugins: [framePlugin]
});
</script>
</body>
</html>
